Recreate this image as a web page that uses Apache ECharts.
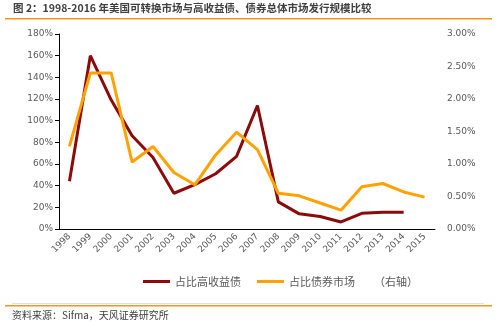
<!DOCTYPE html>
<html>
<head>
<meta charset="utf-8">
<script src="https://cdn.jsdelivr.net/npm/echarts@6/dist/echarts.min.js"></script>
<style>
  html, body { margin: 0; padding: 0; background: #fff; }
  #chart { width: 500px; height: 327px; }
</style>
</head>
<body>
<div id="chart"></div>
<script>
// Issuance share data, 1998-2015
const years = ['1998','1999','2000','2001','2002','2003','2004','2005','2006','2007','2008','2009','2010','2011','2012','2013','2014','2015'];
// Convertible issuance as % of high-yield issuance (left axis)
const shareHighYield = [44, 160, 119, 86, 66, 33, 41, 51, 67, 114, 25, 14, 11.5, 6.5, 14.5, 15.5, 15.5, null];
// Convertible issuance as % of total bond market issuance (right axis)
const shareBondMarket = [1.27, 2.4, 2.4, 1.03, 1.27, 0.87, 0.68, 1.14, 1.49, 1.22, 0.55, 0.51, 0.40, 0.29, 0.65, 0.70, 0.57, 0.49];
const leftTicks = [0, 20, 40, 60, 80, 100, 120, 140, 160, 180];
const rightTicks = [0, 0.5, 1, 1.5, 2, 2.5, 3];

const cjk = '"Noto Sans CJK SC", sans-serif';
const latin = '"DejaVu Sans", sans-serif';
const grey = '#595959';

const chart = echarts.init(document.getElementById('chart'), null, { renderer: 'canvas' });
chart.setOption({
  animation: false,
  backgroundColor: '#fff',
  grid: { left: 59, right: 65, top: 34, bottom: 98 },
  graphic: [
    { type: 'text', left: 13, top: 3,
      style: { text: '图 2：1998-2016 年美国可转换市场与高收益债、债券总体市场发行规模比较',
               font: 'bold 10.5px ' + cjk, fill: '#404040' } },
    { type: 'rect', shape: { x: 5, y: 18, width: 487, height: 1.5 }, style: { fill: '#f7941d' } },
    { type: 'rect', shape: { x: 12, y: 303, width: 472, height: 0.8 }, style: { fill: '#d9d9d9' } },
    { type: 'rect', shape: { x: 5, y: 305, width: 487, height: 1.5 }, style: { fill: '#f7941d' } },
    { type: 'text', left: 12, top: 310,
      style: { text: '资料来源：Sifma，天风证券研究所', font: '10px ' + cjk, fill: '#404040' } },
    { type: 'text', left: 374, top: 276,
      style: { text: '（右轴）', font: '11px ' + cjk, fill: grey } }
  ],
  legend: {
    left: 143, top: 276, padding: 0,
    itemWidth: 27, itemHeight: 3, itemGap: 16,
    icon: 'rect',
    textStyle: { fontFamily: cjk, fontSize: 11, color: grey },
    data: ['占比高收益债', '占比债券市场']
  },
  xAxis: {
    type: 'category',
    data: years,
    boundaryGap: true,
    axisLine: { lineStyle: { color: '#000', width: 1 } },
    axisTick: { alignWithLabel: false, length: 4, lineStyle: { color: '#000' } },
    axisLabel: { rotate: 45, interval: 0, fontFamily: latin, fontSize: 9, color: grey, margin: 6 }
  },
  yAxis: [
    {
      type: 'value', min: 0, max: 180, interval: 20,
      axisLine: { show: true, lineStyle: { color: '#000', width: 1 } },
      axisTick: { show: true, length: 4, lineStyle: { color: '#000' } },
      splitLine: { show: false },
      axisLabel: { fontFamily: latin, fontSize: 9, color: grey, margin: 6,
        formatter: v => leftTicks.includes(v) ? v + '%' : '' }
    },
    {
      type: 'value', min: 0, max: 3, interval: 0.5,
      axisLine: { show: false },
      axisTick: { show: false },
      splitLine: { show: false },
      axisLabel: { fontFamily: latin, fontSize: 9, color: grey, margin: 12,
        formatter: v => rightTicks.includes(v) ? v.toFixed(2) + '%' : '' }
    }
  ],
  series: [
    { name: '占比高收益债', type: 'line', yAxisIndex: 0, data: shareHighYield,
      symbol: 'none', connectNulls: false,
      itemStyle: { color: '#8b0a0a' }, lineStyle: { color: '#8b0a0a', width: 3 } },
    { name: '占比债券市场', type: 'line', yAxisIndex: 1, data: shareBondMarket,
      symbol: 'none',
      itemStyle: { color: '#ffa200' }, lineStyle: { color: '#ffa200', width: 3 } }
  ]
});
</script>
</body>
</html>
